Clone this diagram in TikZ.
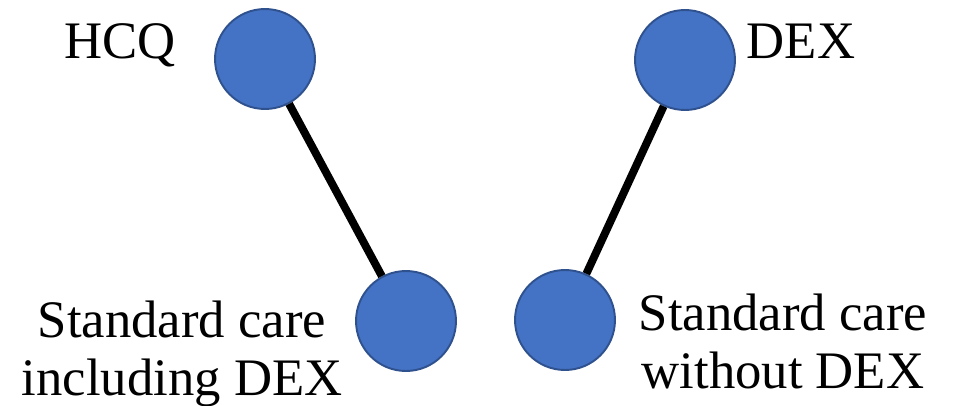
\documentclass[tikz,border=0pt]{standalone}
\usepackage{fontspec}
\setmainfont{Liberation Serif}
\definecolor{dotfill}{HTML}{4472C4}
\definecolor{dotline}{HTML}{2F528F}
\begin{document}
\begin{tikzpicture}[x=0.02cm,y=-0.02cm,
  dot/.style={circle,fill=dotfill,draw=dotline,line width=1.1pt,minimum size=2cm,inner sep=0pt},
  lbl/.style={inner sep=0pt,anchor=base,align=center,font=\fontsize{30}{33}\selectfont}]
  \useasboundingbox (0,0) rectangle (958,406);
  \node (hcqlbl) at (120,58) [lbl] {HCQ};
  \node (dexlbl) at (801,58) [lbl] {DEX};
  \node (inclbl) at (182,395) [lbl] {Standard care\\including DEX};
  \node (wolbl) at (783,388) [lbl] {Standard care\\without DEX};
  \node (hcq) at (265,59) [dot] {};
  \node (dex) at (685,60) [dot] {};
  \node (inc) at (406,321) [dot] {};
  \node (wo) at (565,320) [dot] {};
  \draw[line width=4.5pt] (hcq) -- (inc);
  \draw[line width=4.5pt] (dex) -- (wo);
\end{tikzpicture}
\end{document}
